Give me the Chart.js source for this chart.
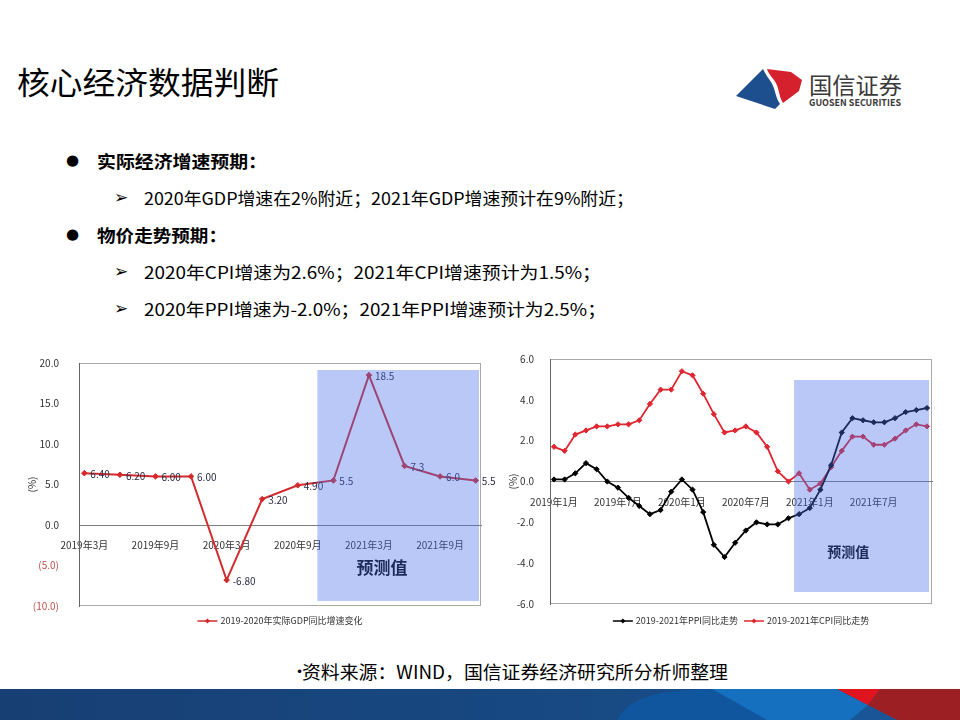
<!DOCTYPE html>
<html>
<head>
<meta charset="utf-8">
<script src="https://cdn.jsdelivr.net/npm/chart.js@4.4.0/dist/chart.umd.min.js"></script>
<style>
html,body{margin:0;padding:0;background:#fff;}
body{width:960px;height:720px;position:relative;overflow:hidden;}
#slide{position:absolute;left:0;top:0;}
.cw{position:absolute;}
</style>
</head>
<body>
<svg id="slide" width="960" height="720" xmlns="http://www.w3.org/2000/svg" font-family="'Noto Sans CJK SC', sans-serif">
  <defs>
    <linearGradient id="band" x1="0" x2="1" y1="0" y2="0">
      <stop offset="0" stop-color="#173f74"/>
      <stop offset="0.65" stop-color="#184a84"/>
      <stop offset="1" stop-color="#1a5496"/>
    </linearGradient>
  </defs>
  <!-- title -->
  <text x="17" y="80" font-size="31" dominant-baseline="central" textLength="262" lengthAdjust="spacingAndGlyphs" fill="#000">核心经济数据判断</text>
  <!-- logo -->
  <path d="M763,69 C766,75 769,79 771,82 C776,90 775,97 780,104 L775,109 L736,96 Z" fill="#1d4f8f"/>
  <path d="M767,69 L791,72 L802,80 L799,91 L783,103 C778,95 780,88 774,80 C771,76 768,73 767,69 Z" fill="#d5202e"/>
  <text x="809" y="84" font-size="23" dominant-baseline="central" textLength="93" lengthAdjust="spacingAndGlyphs" fill="#3a3a3a">国信证券</text>
  <text x="809" y="102" font-size="9.5" font-weight="700" dominant-baseline="central" textLength="92" lengthAdjust="spacingAndGlyphs" fill="#3a3a3a">GUOSEN SECURITIES</text>
  <!-- bullets -->
  <text x="66" y="160" font-size="15" dominant-baseline="central" fill="#000" font-family="'DejaVu Sans'">●</text>
  <text x="97" y="160" font-size="17" font-weight="700" dominant-baseline="central" textLength="170" lengthAdjust="spacingAndGlyphs" fill="#000">实际经济增速预期：</text>
  <text x="114" y="197" font-size="17" dominant-baseline="central" fill="#000" font-family="'DejaVu Sans'">➢</text>
  <text x="144" y="197" font-size="17" dominant-baseline="central" textLength="490" lengthAdjust="spacingAndGlyphs" fill="#000">2020年GDP增速在2%附近；2021年GDP增速预计在9%附近；</text>
  <text x="66" y="234" font-size="15" dominant-baseline="central" fill="#000" font-family="'DejaVu Sans'">●</text>
  <text x="97" y="234" font-size="17" font-weight="700" dominant-baseline="central" textLength="130" lengthAdjust="spacingAndGlyphs" fill="#000">物价走势预期：</text>
  <text x="114" y="271" font-size="17" dominant-baseline="central" fill="#000" font-family="'DejaVu Sans'">➢</text>
  <text x="144" y="271" font-size="17" dominant-baseline="central" textLength="457" lengthAdjust="spacingAndGlyphs" fill="#000">2020年CPI增速为2.6%；2021年CPI增速预计为1.5%；</text>
  <text x="114" y="308" font-size="17" dominant-baseline="central" fill="#000" font-family="'DejaVu Sans'">➢</text>
  <text x="144" y="308" font-size="17" dominant-baseline="central" textLength="462" lengthAdjust="spacingAndGlyphs" fill="#000">2020年PPI增速为-2.0%；2021年PPI增速预计为2.5%；</text>
  <!-- footer source -->
  <text x="296" y="672" font-size="12" dominant-baseline="central" fill="#000" font-family="'DejaVu Sans'">•</text>
  <text x="302" y="671" font-size="18" dominant-baseline="central" textLength="426" lengthAdjust="spacingAndGlyphs" fill="#000">资料来源：WIND，国信证券经济研究所分析师整理</text>
  <!-- bottom band -->
  <rect x="0" y="689" width="960" height="31" fill="url(#band)"/>
  <path d="M617,720 C628,700 650,690 712,689 L767,720 Z" fill="#0f58a2" opacity="0.85"/>
  <polygon points="712,689 837,689 868,705 897,720 767,720" fill="#1670c0"/>
  <polygon points="868,705 897,720 850,720" fill="#1a5598"/>
  <polygon points="880,689 960,689 960,720 897,720 868,705" fill="#9c1f24"/>
  <polygon points="837,689 880,689 868,705" fill="#e0141f"/>
</svg>

<div class="cw" style="left:10px;top:345px;width:485px;height:287px;"><canvas id="gdpChart" width="485" height="287"></canvas></div>
<div class="cw" style="left:505px;top:345px;width:440px;height:287px;"><canvas id="priceChart" width="440" height="287"></canvas></div>

<script>
// ---------------- data ----------------
const gdpQuarters = ['2019年3月','2019年6月','2019年9月','2019年12月','2020年3月','2020年6月','2020年9月','2020年12月','2021年3月','2021年6月','2021年9月','2021年12月'];
const gdpValues = [6.4, 6.2, 6.0, 6.0, -6.8, 3.2, 4.9, 5.5, 18.5, 7.3, 6.0, 5.5];
const gdpValueText = ['6.40','6.20','6.00','6.00','-6.80','3.20','4.90','5.5','18.5','7.3','6.0','5.5'];
const gdpSeriesName = '2019-2020年实际GDP同比增速变化';
const gdpForecastStart = 7;   // first forecast quarter index

const months = ['2019年1月','2019年2月','2019年3月','2019年4月','2019年5月','2019年6月','2019年7月','2019年8月','2019年9月','2019年10月','2019年11月','2019年12月',
                '2020年1月','2020年2月','2020年3月','2020年4月','2020年5月','2020年6月','2020年7月','2020年8月','2020年9月','2020年10月','2020年11月','2020年12月',
                '2021年1月','2021年2月','2021年3月','2021年4月','2021年5月','2021年6月','2021年7月','2021年8月','2021年9月','2021年10月','2021年11月','2021年12月'];
const ppiValues = [0.1, 0.1, 0.4, 0.9, 0.6, 0.0, -0.3, -0.8, -1.2, -1.6, -1.4, -0.5,
                   0.1, -0.4, -1.5, -3.1, -3.7, -3.0, -2.4, -2.0, -2.1, -2.1, -1.8, -1.6,
                   -1.3, -0.4, 0.8, 2.4, 3.1, 3.0, 2.9, 2.9, 3.1, 3.4, 3.5, 3.6];
const cpiValues = [1.7, 1.5, 2.3, 2.5, 2.7, 2.7, 2.8, 2.8, 3.0, 3.8, 4.5, 4.5,
                   5.4, 5.2, 4.3, 3.3, 2.4, 2.5, 2.7, 2.4, 1.7, 0.5, 0.0, 0.4,
                   -0.4, -0.1, 0.7, 1.5, 2.2, 2.2, 1.8, 1.8, 2.1, 2.5, 2.8, 2.7];
const ppiSeriesName = '2019-2021年PPI同比走势';
const cpiSeriesName = '2019-2021年CPI同比走势';
const priceForecastStart = 23; // first forecast month index
const forecastCaption = '预测值';
const yAxisTitle = '(%)';

// ---------------- helpers / plugins ----------------
const FONT = "'Noto Sans CJK SC', 'DejaVu Sans', sans-serif";
Chart.defaults.font.family = FONT;
Chart.defaults.animation = false;

const framePlugin = {
  id: 'plotFrame',
  beforeDraw(chart) {
    const {ctx, chartArea: a} = chart;
    ctx.save();
    ctx.strokeStyle = '#a9a9a9';
    ctx.lineWidth = 1;
    ctx.strokeRect(Math.round(a.left) + 0.5, Math.round(a.top) + 0.5, Math.round(a.right - a.left) - 1, Math.round(a.bottom - a.top) - 1);
    ctx.restore();
  }
};

const forecastPlugin = {
  id: 'forecast',
  afterDatasetsDraw(chart, args, o) {
    const {ctx, chartArea: a, scales: {x, y}} = chart;
    ctx.save();
    if (o.valueText) {
      const meta = chart.getDatasetMeta(0);
      ctx.font = o.valueFont;
      ctx.fillStyle = o.valueColor;
      ctx.textBaseline = 'middle';
      ctx.textAlign = 'left';
      meta.data.forEach((pt, i) => ctx.fillText(o.valueText[i], pt.x + 6, pt.y + 1));
    }
    ctx.font = o.captionFont;
    ctx.fillStyle = '#000';
    ctx.textAlign = 'center';
    ctx.textBaseline = 'middle';
    ctx.fillText(o.caption, x.getPixelForValue(o.captionAt.x), y.getPixelForValue(o.captionAt.y));
    const x0 = x.getPixelForValue(o.startIndex - o.leadIn);
    const x1 = a.right - o.inset.right;
    const y0 = a.top + o.inset.top;
    const y1 = a.bottom - o.inset.bottom;
    ctx.fillStyle = 'rgba(70,110,232,0.38)';
    ctx.fillRect(x0, y0, x1 - x0, y1 - y0);
    ctx.restore();
  }
};

const legendPlugin = {
  id: 'lineLegend',
  afterDraw(chart, args, o) {
    const {ctx, chartArea: a} = chart;
    const ds = chart.data.datasets;
    ctx.save();
    ctx.font = '9px ' + FONT;
    ctx.textBaseline = 'middle';
    ctx.textAlign = 'left';
    const lineW = 20, gap = 3, itemGap = 6;
    const widths = ds.map(d => lineW + gap + ctx.measureText(d.label).width);
    const total = widths.reduce((s, w) => s + w, 0) + itemGap * (ds.length - 1);
    let x = (a.left + a.right) / 2 - total / 2;
    const y = a.bottom + o.offset;
    ds.forEach((d, i) => {
      const col = d.borderColor;
      ctx.strokeStyle = col;
      ctx.fillStyle = col;
      ctx.lineWidth = 1.5;
      ctx.beginPath(); ctx.moveTo(x, y); ctx.lineTo(x + lineW, y); ctx.stroke();
      const cx = x + lineW / 2, r = 2.5;
      ctx.beginPath(); ctx.moveTo(cx, y - r); ctx.lineTo(cx + r, y); ctx.lineTo(cx, y + r); ctx.lineTo(cx - r, y); ctx.closePath(); ctx.fill();
      ctx.fillStyle = '#333';
      ctx.fillText(d.label, x + lineW + gap, y);
      x += widths[i] + itemGap;
    });
    ctx.restore();
  }
};

const toPoints = vals => vals.map((v, i) => ({x: i, y: v}));

// ---------------- GDP chart ----------------
new Chart(document.getElementById('gdpChart'), {
  type: 'line',
  data: {
    datasets: [{
      label: gdpSeriesName,
      data: toPoints(gdpValues),
      borderColor: '#d32a2e',
      backgroundColor: '#d32a2e',
      borderWidth: 2,
      pointStyle: 'rectRot',
      pointRadius: 2.8,
      pointBorderWidth: 1,
      tension: 0
    }]
  },
  options: {
    responsive: false,
    animation: false,
    layout: {padding: {left: 12, right: 14, top: 14, bottom: 26}},
    plugins: {
      legend: {display: false},
      tooltip: {enabled: false},
      lineLegend: {offset: 15},
      forecast: {
        valueText: gdpValueText,
        valueFont: '10px ' + FONT,
        valueColor: '#2a2a44',
        startIndex: gdpForecastStart,
        leadIn: 0.45,
        inset: {top: 7, bottom: 5, right: 2},
        caption: forecastCaption,
        captionFont: 'bold 17px ' + FONT,
        captionAt: {x: 8.37, y: -5.2}
      }
    },
    scales: {
      x: {
        type: 'linear',
        min: -0.15,
        max: 11.15,
        position: {y: 0},
        grid: {display: false},
        border: {color: '#7f7f7f', width: 1},
        ticks: {
          stepSize: 2, includeBounds: false, autoSkip: false, maxRotation: 0, padding: 6,
          color: '#333', font: {size: 10},
          callback: v => (Number.isInteger(v) && gdpQuarters[v]) ? gdpQuarters[v] : ''
        }
      },
      y: {
        min: -10, max: 20,
        grid: {display: false},
        border: {color: '#666', width: 1},
        afterFit: s => { s.width = 57; },
        title: {display: true, text: yAxisTitle, color: '#333', font: {size: 10}},
        ticks: {
          stepSize: 5, padding: 12, font: {size: 10},
          color: c => c.tick.value < 0 ? '#c0504d' : '#333',
          callback: v => v < 0 ? '(' + Math.abs(v).toFixed(1) + ')' : v.toFixed(1)
        }
      }
    }
  },
  plugins: [framePlugin, forecastPlugin, legendPlugin]
});

// ---------------- PPI / CPI chart ----------------
new Chart(document.getElementById('priceChart'), {
  type: 'line',
  data: {
    datasets: [{
      label: ppiSeriesName,
      data: toPoints(ppiValues),
      borderColor: '#000',
      backgroundColor: '#000',
      borderWidth: 1.8,
      pointStyle: 'rectRot',
      pointRadius: 2.6,
      pointBorderWidth: 1,
      tension: 0
    }, {
      label: cpiSeriesName,
      data: toPoints(cpiValues),
      borderColor: '#e02630',
      backgroundColor: '#e02630',
      borderWidth: 1.8,
      pointStyle: 'rectRot',
      pointRadius: 2.6,
      pointBorderWidth: 1,
      tension: 0
    }]
  },
  options: {
    responsive: false,
    animation: false,
    layout: {padding: {left: 2, right: 13, top: 14, bottom: 28}},
    plugins: {
      legend: {display: false},
      tooltip: {enabled: false},
      lineLegend: {offset: 17},
      forecast: {
        startIndex: priceForecastStart,
        leadIn: 0.47,
        inset: {top: 21, bottom: 12, right: 3},
        caption: forecastCaption,
        captionFont: 'bold 14px ' + FONT,
        captionAt: {x: 27.6, y: -3.45}
      }
    },
    scales: {
      x: {
        type: 'linear',
        min: -0.375,
        max: 35.47,
        position: {y: 0},
        grid: {display: false},
        border: {color: '#7f7f7f', width: 1},
        ticks: {
          stepSize: 6, includeBounds: false, autoSkip: false, maxRotation: 0, padding: 7,
          color: '#333', font: {size: 10},
          callback: v => (Number.isInteger(v) && months[v]) ? months[v] : ''
        }
      },
      y: {
        min: -6, max: 6,
        grid: {display: false},
        border: {color: '#666', width: 1},
        afterFit: s => { s.width = 43; },
        title: {display: true, text: yAxisTitle, color: '#333', font: {size: 10}, padding: {top: 0, bottom: 4}},
        ticks: {
          stepSize: 2, padding: 8, font: {size: 10}, color: '#333',
          callback: v => v.toFixed(1)
        }
      }
    }
  },
  plugins: [framePlugin, forecastPlugin, legendPlugin]
});
</script>
</body>
</html>
